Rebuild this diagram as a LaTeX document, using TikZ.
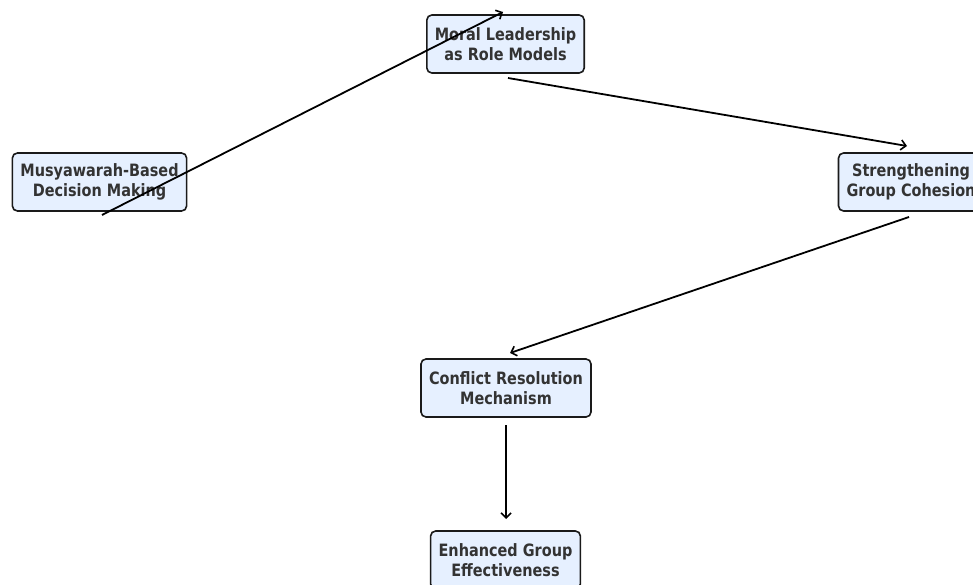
\documentclass[tikz,border=0pt]{standalone}
\usepackage{fontspec}
\setmainfont{DejaVu Sans}[FakeStretch=0.85]
\usetikzlibrary{arrows.meta,calc}
\definecolor{boxfill}{HTML}{E6F0FF}
\definecolor{boxline}{HTML}{1A1A1A}
\definecolor{txt}{HTML}{333333}
\begin{document}
\begin{tikzpicture}[x=1pt,y=-1pt,
  box/.style={draw=boxline,line width=1.6pt,fill=boxfill,rounded corners=5pt,
    align=center,text=txt,font=\fontsize{17}{20.5}\selectfont\bfseries,
    minimum height=58pt,inner xsep=8pt,inner ysep=2pt},
  arr/.style={line width=1.8pt,-{Straight Barb[length=5pt,width=10pt,line width=1.6pt]}}]
\useasboundingbox (0,0) rectangle (973,585);
\clip (0,0) rectangle (973,585);
\node[box,minimum width=157pt] (mor) at (505.5,44) {Moral Leadership\\as Role Models};
\node[box,minimum width=173pt] (mus) at (99.5,182) {Musyawarah-Based\\Decision Making};
\node[box,minimum width=136pt] (str) at (911,182) {Strengthening\\Group Cohesion};
\node[box,minimum width=170pt] (con) at (506,388) {Conflict Resolution\\Mechanism};
\node[box,minimum width=149pt] (enh) at (505.5,560) {Enhanced Group\\Effectiveness};
\draw[arr] ($(mus.center)+(2.5,33)$) -- ($(mor.center)+(-2.5,-32)$);
\draw[arr] ($(mor.center)+(2.5,34)$) -- ($(str.center)+(-4,-36)$);
\draw[arr] ($(str.center)+(-2,35)$) -- ($(con.center)+(4,-35)$);
\draw[arr] ($(con.center)+(0,37)$) -- ($(enh.center)+(0.5,-41)$);
\end{tikzpicture}
\end{document}
